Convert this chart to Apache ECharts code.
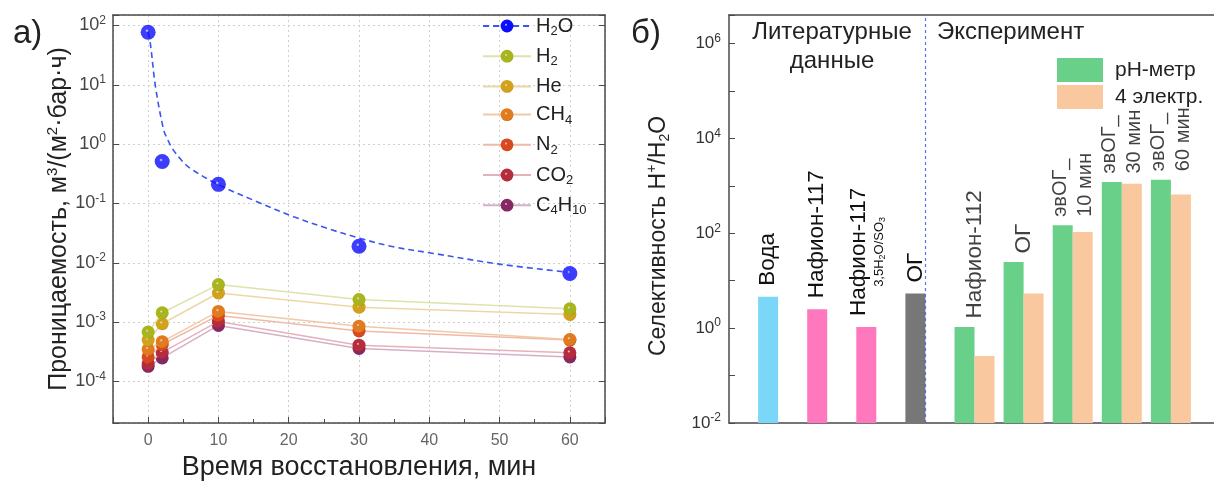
<!DOCTYPE html>
<html><head><meta charset="utf-8">
<script src="https://cdn.jsdelivr.net/npm/echarts@6/dist/echarts.min.js"></script>
<style>html,body{margin:0;padding:0;background:#fff}#c{width:1214px;height:484px}</style>
</head><body><div id="c"></div>
<script>
const FONT = '"Liberation Sans", Arial, sans-serif';

// ---------- Panel а) : permeability vs. reduction time ----------
const timeMin = [0, 2, 10, 30, 60];
const h2oPerm   = [77, 0.51, 0.21, 0.019, 0.0066];
const h2Perm    = [6.8e-4, 1.44e-3, 4.3e-3, 2.4e-3, 1.68e-3];
const hePerm    = [5.0e-4, 9.4e-4, 3.1e-3, 1.79e-3, 1.35e-3];
const ch4Perm   = [3.5e-4, 4.7e-4, 1.52e-3, 8.5e-4, 5.1e-4];
const n2Perm    = [2.6e-4, 4.2e-4, 1.3e-3, 7.1e-4, 5.0e-4];
const co2Perm   = [2.0e-4, 3.1e-4, 1.03e-3, 4.1e-4, 3.05e-4];
const c4h10Perm = [1.8e-4, 2.5e-4, 8.8e-4, 3.6e-4, 2.6e-4];
// H2O fitted (dashed) curve
const h2oFitTime = [0, 0.33, 1.04, 2.2, 2.8, 3.4, 4.6, 6.0, 10.1, 15.5, 20.7, 25.5, 30.2, 34.9, 40.6, 50, 60];
const h2oFitPerm = [77, 48, 9.4, 1.75, 1.18, 0.86, 0.56, 0.39, 0.205, 0.107, 0.060, 0.038, 0.0258, 0.0186, 0.0144, 0.0095, 0.0069];
const gasNames = ['H2', 'He', 'CH4', 'N2', 'CO2', 'C4H10'];
const gasValues = [h2Perm, hePerm, ch4Perm, n2Perm, co2Perm, c4h10Perm];

// ---------- Panel б) : selectivity H+/H2O ----------
const barMain = ['Вода', 'Нафион-117', 'Нафион-117', 'ОГ', 'Нафион-112', 'ОГ', 'эвОГ_', 'эвОГ_', 'эвОГ_'];
const barSub  = ['', '', '3,5H2O/SO3', '', '', '', '10 мин', '30 мин', '60 мин'];
const literatureCount = 4;
const phMeter   = [4.6, 2.5, 1.06, 5.4, 1.06, 24.9, 147, 1200, 1350];
const fourElect = [null, null, null, null, 0.26, 5.4, 107, 1110, 660];
const seriesNames = ['pH-метр', '4 электр.'];

// ---------- styles ----------
const gasBall  = ['#a9b51c', '#d3a21c', '#e27a1e', '#d9481e', '#b52c3c', '#882766'];
const gasDark  = ['#6f7a08', '#8f6a06', '#9a4a08', '#94280a', '#741424', '#52103c'];
const gasLine  = ['#dfe2ab', '#ecd7a8', '#f2c9a8', '#f0b9a8', '#e6b1ba', '#d4b0c8'];
const litColors = ['#7ad7f7', '#ff78be', '#ff78be', '#777777'];
const GREEN = '#68d088', ORANGE = '#f9c89e';
const AX = '#4a4a4a';

function ball(c, dark) {
  return new echarts.graphic.RadialGradient(0.42, 0.4, 0.72, [
    { offset: 0, color: '#eeeeff' }, { offset: 0.16, color: c }, { offset: 0.75, color: c }, { offset: 1, color: dark }]);
}
function pow10(v, oddHidden) {
  const l = Math.log10(v), e = Math.round(l);
  if (Math.abs(l - e) > 1e-6) return '';
  if (oddHidden && Math.abs(e) % 2 === 1) return '';
  return '{b|10}{s|' + e + '}';
}
function chem(name, n, s) { // digits following a letter become subscripts
  let out = '', buf = '', prevLetter = false;
  for (const ch of name) {
    const isDigit = /[0-9]/.test(ch);
    if (isDigit && prevLetter) { if (buf) out += '{' + n + '|' + buf + '}'; buf = ''; out += '{' + s + '|' + ch + '}'; continue; }
    buf += ch; prevLetter = /[A-Za-z]/.test(ch);
  }
  if (buf) out += '{' + n + '|' + buf + '}';
  return out;
}
const zip = (a, b) => a.map((x, i) => [x, b[i]]);

const axisCats = ['', ...barMain.map((m, i) => m + (barSub[i] ? ' ' + barSub[i] : '')), ''];
const pad = arr => [null, ...arr, null];

function barLabel(i) {
  if (!barSub[i]) return '{m|' + barMain[i] + '}';
  if (i < literatureCount) return '{m|' + barMain[i] + '}\n' + chem(barSub[i], 'sc', 'ss');
  return '{e|' + barMain[i] + '}\n{e|' + barSub[i] + '}';
}

const labelRich = {
  m: { fontSize: 22.5, fontFamily: FONT, color: '#111', lineHeight: 26 },
  e: { fontSize: 20, fontFamily: FONT, color: '#111', lineHeight: 25 },
  sc: { fontSize: 13, fontFamily: FONT, color: '#111', align: 'center', lineHeight: 16 },
  ss: { fontSize: 9, fontFamily: FONT, color: '#111', align: 'center', verticalAlign: 'bottom' }
};
const tickRichL = { b: { fontSize: 18, fontFamily: FONT, color: '#444', lineHeight: 22 }, s: { fontSize: 12, fontFamily: FONT, color: '#444', verticalAlign: 'top' } };
const tickRichR = { b: { fontSize: 17, fontFamily: FONT, color: '#333', lineHeight: 22 }, s: { fontSize: 12, fontFamily: FONT, color: '#333', verticalAlign: 'top' } };

const DIVIDER = { color: '#4a62f0', type: [3, 3], width: 1.2, opacity: 0.9 };

const series = [];
series.push({
  name: 'H2O', type: 'line', xAxisIndex: 0, yAxisIndex: 0, data: zip(h2oFitTime, h2oFitPerm),
  smooth: 0.35, showSymbol: false, symbol: 'circle', symbolSize: 14,
  itemStyle: { color: ball('#0c0cff', '#00007a') },
  lineStyle: { color: '#3a55f0', type: [6, 4], width: 1.6 }, z: 2, silent: true
});
series.push({
  name: 'H2O', type: 'scatter', xAxisIndex: 0, yAxisIndex: 0, data: zip(timeMin, h2oPerm),
  symbol: 'circle', symbolSize: 15, itemStyle: { color: ball('#0c0cff', '#00007a') }, z: 6
});
gasNames.forEach((g, k) => {
  series.push({
    name: g, type: 'line', xAxisIndex: 0, yAxisIndex: 0, data: zip(timeMin, gasValues[k]),
    symbol: 'circle', symbolSize: 13, showSymbol: true,
    itemStyle: { color: ball(gasBall[k], gasDark[k]) },
    lineStyle: { color: gasLine[k], width: 1.5 }, z: 4 - k * 0.1
  });
});
series.push({
  name: seriesNames[0], type: 'bar', xAxisIndex: 2, yAxisIndex: 2, barWidth: 20, barGap: '0%',
  itemStyle: { color: GREEN },
  data: pad(phMeter.map((v, i) => i < literatureCount
    ? { value: v, itemStyle: { color: litColors[i] } }
    : { value: v, label: { show: false } })),
  label: {
    show: true, position: 'top', rotate: 90, align: 'left', verticalAlign: 'middle', distance: 11,
    formatter: p => barLabel(p.dataIndex - 1), rich: labelRich
  }
});
series.push({
  name: seriesNames[1], type: 'bar', xAxisIndex: 2, yAxisIndex: 2, barWidth: 20, barGap: '0%',
  itemStyle: { color: ORANGE }, data: pad(fourElect)
});
// labels above the experimental pairs (centred on each pair) + divider line
series.push({
  type: 'scatter', xAxisIndex: 2, yAxisIndex: 2, symbolSize: 1, silent: true,
  itemStyle: { color: 'rgba(0,0,0,0)' },
  data: pad(phMeter.map((v, i) => i < literatureCount ? null : Math.max(v, fourElect[i] || 0))),
  label: {
    show: true, position: 'top', rotate: 90, align: 'left', verticalAlign: 'middle', distance: 8,
    formatter: p => barLabel(p.dataIndex - 1), rich: labelRich
  },
  markLine: {
    silent: true, symbol: 'none', label: { show: false }, z: 10,
    lineStyle: DIVIDER, emphasis: { disabled: true },
    data: [{ xAxis: literatureCount, lineStyle: DIVIDER }]
  }
});

const option = {
  animation: false,
  backgroundColor: '#fff',
  textStyle: { fontFamily: FONT },
  title: [
    { text: 'а)', left: 8, top: 12, textStyle: { fontSize: 33, fontWeight: 'normal', color: '#222', fontFamily: FONT } },
    { text: 'б)', left: 626, top: 12, textStyle: { fontSize: 33, fontWeight: 'normal', color: '#222', fontFamily: FONT } }
  ],
  graphic: [
    { type: 'text', x: 832, y: 18, style: { text: 'Литературные\nданные', align: 'center', verticalAlign: 'top', fontSize: 24, lineHeight: 29, fontFamily: FONT, fill: '#222' } },
    { type: 'text', x: 937, y: 18, style: { text: 'Эксперимент', align: 'left', verticalAlign: 'top', fontSize: 24, lineHeight: 29, fontFamily: FONT, fill: '#222' } }
  ],
  grid: [
    { left: 113, top: 15, width: 492, height: 408, outerBoundsMode: 'none' },
    { left: 729, top: 15, width: 491, height: 408, outerBoundsMode: 'none' }
  ],
  legend: [
    {
      data: ['H2O', ...gasNames], orient: 'vertical', left: 477, top: 11, itemWidth: 48, itemHeight: 16, itemGap: 8.2,
      formatter: name => chem(name, 'n', 's'),
      textStyle: {
        fontSize: 20, color: '#222', fontFamily: FONT,
        rich: { n: { fontSize: 20, lineHeight: 24, color: '#222', fontFamily: FONT }, s: { fontSize: 13, color: '#222', fontFamily: FONT, verticalAlign: 'bottom' } }
      },
      selectedMode: false
    },
    {
      data: seriesNames, orient: 'vertical', left: 1052, top: 53, itemWidth: 46, itemHeight: 24, itemGap: 3,
      icon: 'rect', selectedMode: false,
      textStyle: { fontSize: 21, color: '#222', fontFamily: FONT, padding: [0, 0, 0, 7] }
    }
  ],
  xAxis: [
    {
      type: 'value', gridIndex: 0, position: 'bottom', min: -5, max: 65, splitNumber: 7,
      axisLine: { show: true, onZero: false, lineStyle: { color: AX, width: 1.5 } },
      axisTick: { show: true, inside: true, length: 6, lineStyle: { color: AX } },
      minorTick: { show: true, splitNumber: 2, length: 4, lineStyle: { color: AX } },
      axisLabel: { fontSize: 16, color: '#666', margin: 10, formatter: v => (v % 10 === 0 ? String(v) : '') },
      splitLine: { show: true, lineStyle: { color: '#cfcfcf', type: [2, 3] } },
      name: 'Время восстановления, мин', nameLocation: 'middle', nameGap: 28,
      nameTextStyle: { fontSize: 27, color: '#222', fontFamily: FONT }
    },
    {
      type: 'value', gridIndex: 0, position: 'top', min: -5, max: 65,
      axisLine: { show: true, onZero: false, lineStyle: { color: AX, width: 1.5 } },
      axisTick: { show: false }, axisLabel: { show: false }, splitLine: { show: false }
    },
    {
      type: 'category', gridIndex: 1, position: 'bottom', data: axisCats, boundaryGap: false,
      axisLine: { show: true, onZero: false, lineStyle: { color: AX, width: 1.5 } },
      axisTick: { show: false }, axisLabel: { show: false }, splitLine: { show: false }
    },
    {
      type: 'value', gridIndex: 1, position: 'top', min: 0, max: 1,
      axisLine: { show: true, onZero: false, lineStyle: { color: AX, width: 1.5 } },
      axisTick: { show: false }, axisLabel: { show: false }, splitLine: { show: false }
    }
  ],
  yAxis: [
    {
      type: 'log', gridIndex: 0, position: 'left', min: 2e-5, max: 150, splitNumber: 7,
      axisLine: { show: true, onZero: false, lineStyle: { color: AX, width: 1.5 } },
      axisTick: { show: true, inside: true, length: 6, lineStyle: { color: AX } },
      axisLabel: { formatter: v => pow10(v, false), rich: tickRichL, margin: 7 },
      splitLine: { show: true, lineStyle: { color: '#cfcfcf', type: [2, 3] } },
      name: '{n|Проницаемость, м}{p|3}{n|/(м}{p|2}{n|·бар·ч)}', nameLocation: 'middle', nameGap: 38,
      nameTextStyle: {
        fontSize: 25, color: '#222', fontFamily: FONT,
        rich: { n: { fontSize: 25, lineHeight: 28, color: '#222', fontFamily: FONT }, p: { fontSize: 15, color: '#222', fontFamily: FONT, verticalAlign: 'top' } }
      }
    },
    {
      type: 'log', gridIndex: 0, position: 'right', min: 2e-5, max: 150, splitNumber: 7,
      axisLine: { show: true, onZero: false, lineStyle: { color: AX, width: 1.5 } },
      axisTick: { show: true, inside: true, length: 6, lineStyle: { color: AX } },
      axisLabel: { show: false }, splitLine: { show: false }
    },
    {
      type: 'log', gridIndex: 1, position: 'left', min: 0.01, max: 4e6, splitNumber: 8, startValue: 0.01,
      axisLine: { show: true, onZero: false, lineStyle: { color: AX, width: 1.5 } },
      axisTick: { show: true, inside: true, length: 6, lineStyle: { color: AX } },
      axisLabel: { formatter: v => pow10(v, true), rich: tickRichR, margin: 8 },
      splitLine: { show: false },
      name: '{n|Селективность H}{p|+}{n|/H}{s|2}{n|O}', nameLocation: 'middle', nameGap: 57,
      nameTextStyle: {
        fontSize: 23, color: '#222', fontFamily: FONT, padding: [0, 34, 0, 0],
        rich: {
          n: { fontSize: 23, lineHeight: 27, color: '#222', fontFamily: FONT },
          p: { fontSize: 14, color: '#222', fontFamily: FONT, verticalAlign: 'top' },
          s: { fontSize: 14, color: '#222', fontFamily: FONT, verticalAlign: 'bottom' }
        }
      }
    },
    {
      type: 'log', gridIndex: 1, position: 'right', min: 0.01, max: 4e6, splitNumber: 8,
      axisLine: { show: true, onZero: false, lineStyle: { color: AX, width: 1.5 } },
      axisTick: { show: true, inside: true, length: 6, lineStyle: { color: AX } },
      axisLabel: { show: false }, splitLine: { show: false }
    }
  ],
  series
};

const chart = echarts.init(document.getElementById('c'), null, { renderer: 'canvas' });
chart.setOption(option);
</script>
</body></html>
